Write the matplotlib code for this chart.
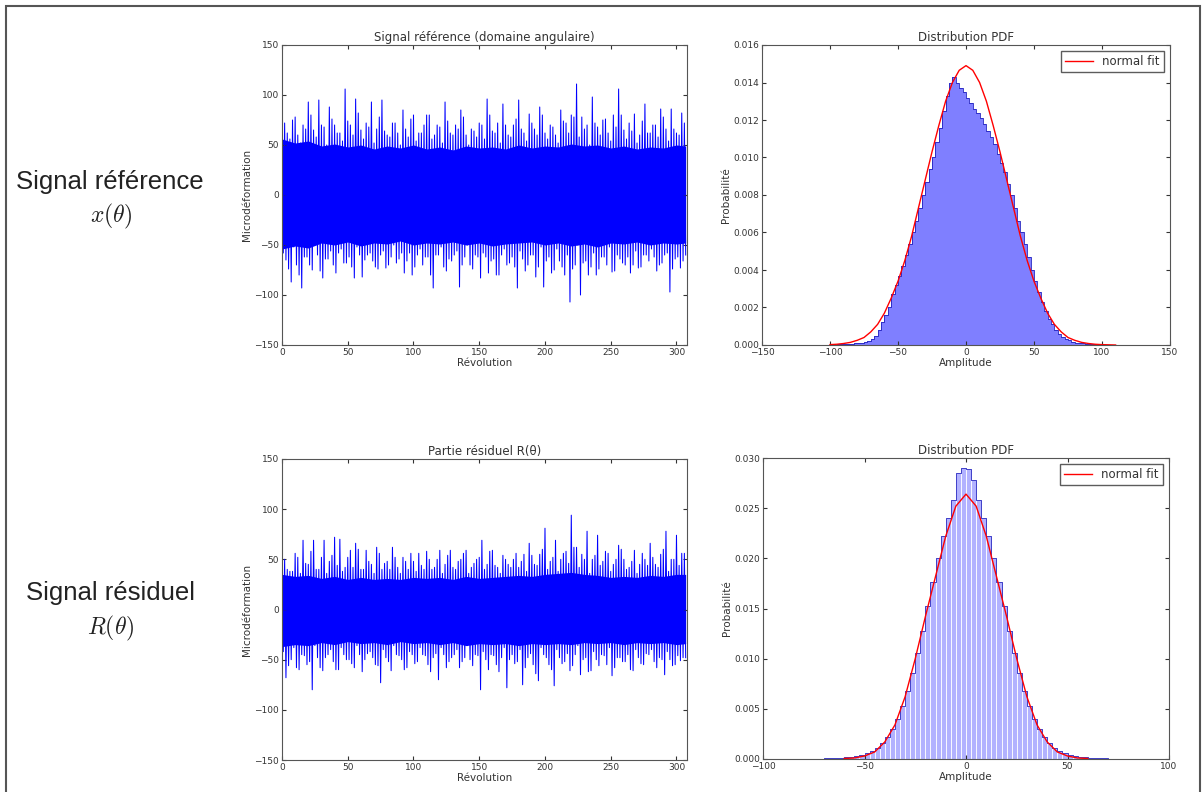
import numpy as np
import matplotlib
matplotlib.use("Agg")
import matplotlib.pyplot as plt
from matplotlib.patches import Rectangle

# ---- time signals, one group every 4 rev ----
# main peaks / troughs (the tall spikes)
ref_upper = [78, 62, 75, 60, 70, 93, 65, 95, 68, 88, 70, 62, 106, 70, 96, 65,
             72, 93, 66, 95, 60, 72, 62, 85, 58, 80, 62, 70, 80, 60, 68, 93,
             62, 70, 85, 60, 66, 58, 70, 96, 64, 72, 91, 60, 70, 95, 62, 81,
             66, 88, 62, 70, 60, 85, 72, 80, 111, 78, 70, 98, 68, 75, 62, 80,
             106, 65, 72, 81, 60, 91, 62, 70, 86, 66, 86, 62, 82]
ref_lower = [-65, -87, -70, -93, -62, -75, -60, -83, -64, -70, -58, -68, -62,
             -83, -60, -65, -58, -72, -60, -73, -62, -68, -58, -66, -80, -60,
             -70, -62, -93, -60, -72, -64, -60, -92, -62, -70, -60, -83, -62,
             -66, -80, -60, -70, -62, -93, -64, -70, -60, -72, -92, -62, -75,
             -66, -80, -107, -70, -100, -66, -72, -80, -62, -70, -77, -60, -68,
             -62, -70, -73, -60, -66, -62, -70, -60, -97, -64, -73, -60]
# smaller peaks / troughs in between
ref_upper2 = [72, 56, 78, 52, 66, 80, 58, 70, 50, 76, 62, 54, 74, 60, 82, 56,
              68, 52, 78, 64, 58, 72, 50, 66, 76, 54, 62, 80, 56, 70, 52, 74,
              60, 66, 78, 50, 64, 72, 56, 80, 62, 52, 70, 58, 76, 66, 54, 72,
              60, 80, 56, 68, 52, 74, 62, 78, 58, 66, 50, 72, 60, 76, 54, 68,
              80, 56, 64, 52, 74, 62, 70, 58, 78, 54, 66, 60, 72]
ref_lower2 = [-58, -74, -52, -80, -62, -70, -50, -76, -64, -56, -78, -54, -68,
              -72, -52, -82, -60, -66, -74, -56, -70, -50, -64, -78, -58, -72,
              -54, -62, -80, -60, -52, -76, -66, -56, -70, -50, -74, -62, -58,
              -78, -64, -80, -54, -68, -72, -56, -76, -60, -82, -52, -66, -78,
              -54, -72, -60, -74, -50, -68, -80, -58, -74, -62, -52, -76, -64,
              -70, -78, -56, -72, -60, -54, -76, -68, -58, -74, -62, -66]
# dense core of the band, every 10 rev (last point at the right edge)
ref_core_hi = [56, 52, 54, 49, 51, 48, 50, 46, 49, 47, 50, 46, 48, 45, 49, 47,
               48, 46, 50, 47, 49, 48, 51, 49, 50, 47, 49, 46, 48, 47, 50, 49]
ref_core_lo = [-54, -51, -53, -48, -50, -47, -51, -48, -49, -46, -50, -48, -49,
               -47, -50, -48, -51, -49, -48, -47, -50, -48, -51, -49, -52, -48,
               -49, -47, -50, -48, -49, -48]

res_upper = [46, 40, 38, 52, 69, 45, 69, 40, 69, 48, 72, 70, 42, 59, 66, 40,
             59, 45, 62, 40, 48, 62, 42, 52, 40, 48, 56, 40, 50, 42, 59, 45,
             59, 40, 50, 59, 42, 50, 69, 45, 59, 42, 54, 45, 50, 42, 55, 66,
             45, 55, 81, 48, 69, 50, 58, 94, 62, 55, 78, 50, 74, 48, 56, 45,
             64, 50, 42, 59, 45, 50, 66, 45, 55, 78, 50, 74, 56]
res_lower = [-68, -50, -58, -45, -55, -80, -48, -61, -45, -52, -60, -45, -50,
             -58, -45, -50, -42, -55, -73, -48, -61, -45, -50, -58, -45, -52,
             -45, -55, -48, -70, -45, -52, -45, -58, -48, -50, -45, -80, -50,
             -45, -55, -48, -78, -45, -52, -75, -48, -55, -71, -45, -55, -76,
             -48, -52, -61, -45, -65, -48, -61, -50, -45, -55, -66, -48, -52,
             -45, -61, -48, -55, -45, -52, -48, -65, -50, -55, -51, -48]
res_upper2 = [50, 38, 56, 36, 46, 58, 40, 52, 36, 54, 44, 38, 52, 42, 60, 40,
              48, 36, 56, 46, 40, 52, 36, 48, 56, 38, 44, 58, 40, 50, 36, 54,
              42, 48, 56, 36, 46, 52, 40, 58, 44, 36, 50, 42, 56, 48, 38, 54,
              44, 60, 40, 52, 38, 56, 46, 62, 42, 50, 36, 54, 44, 58, 38, 50,
              60, 40, 48, 36, 56, 44, 52, 42, 60, 38, 50, 44, 56]
res_lower2 = [-42, -56, -38, -60, -46, -52, -36, -58, -48, -40, -60, -38, -50,
              -54, -36, -62, -44, -48, -56, -40, -52, -36, -46, -60, -42, -54,
              -38, -46, -62, -44, -38, -58, -48, -40, -52, -36, -56, -46, -42,
              -60, -46, -62, -38, -50, -54, -40, -58, -44, -64, -38, -48, -60,
              -40, -54, -44, -56, -36, -50, -62, -42, -56, -46, -38, -58, -48,
              -52, -60, -40, -54, -44, -40, -58, -50, -42, -56, -46, -48]
res_core_hi = [35, 33, 34, 31, 33, 30, 32, 30, 31, 30, 32, 31, 32, 30, 33, 31,
               32, 33, 34, 33, 35, 36, 37, 35, 34, 32, 33, 32, 34, 33, 35, 35]
res_core_lo = [-37, -35, -36, -33, -35, -32, -34, -33, -35, -32, -34, -33, -35,
               -33, -36, -34, -35, -34, -36, -34, -35, -34, -35, -33, -34, -33,
               -35, -33, -34, -33, -35, -34]
core_rev = list(range(0, 301, 10)) + [307]

# ---- histograms (density per 2.5-wide bin) ----
ref_hist = [0.00002, 0.00002, 0.00003, 0.00004, 0.00005, 0.00006, 0.00007,
            0.00008, 0.0001, 0.00012, 0.00015, 0.0002, 0.0003, 0.0005,
            0.0008, 0.0012, 0.0016, 0.0020, 0.0027, 0.0032, 0.0037, 0.0042,
            0.0048, 0.0054, 0.0060, 0.0066, 0.0073, 0.0080, 0.0087, 0.0094,
            0.0100, 0.0108, 0.0116, 0.0125, 0.0133, 0.0140, 0.0143, 0.0140,
            0.0137, 0.0135,
            0.0132, 0.0129, 0.0126, 0.0124, 0.0121, 0.0118, 0.0114, 0.0111,
            0.0107, 0.0102, 0.0097, 0.0092, 0.0086, 0.0080, 0.0073, 0.0066,
            0.0060, 0.0054, 0.0047, 0.0040, 0.0034, 0.0028, 0.0023, 0.0018,
            0.0014, 0.0011, 0.0008, 0.0006, 0.00045, 0.00033, 0.00025, 0.00018,
            0.00013, 0.0001, 0.00008, 0.00006, 0.00005, 0.00004, 0.00003,
            0.00003, 0.00002, 0.00002, 0.00002, 0.00001, 0.00001]
res_hist = [0.00001, 0.00001, 0.00002, 0.00002, 0.00003, 0.00004, 0.00005,
            0.00007, 0.0001, 0.00013, 0.00015, 0.0002, 0.0003, 0.0004, 0.0006,
            0.0008, 0.0011, 0.0016, 0.0022, 0.0030, 0.0040, 0.0053, 0.0068,
            0.0086, 0.0106, 0.0128, 0.0152, 0.0176, 0.0200, 0.0222, 0.0240,
            0.0258, 0.0285, 0.0290,
            0.0289, 0.0278, 0.0258, 0.0240, 0.0222, 0.0200, 0.0176, 0.0152,
            0.0128, 0.0106, 0.0086, 0.0068, 0.0053, 0.0040, 0.0030, 0.0022,
            0.0016, 0.0011, 0.0008, 0.0006, 0.0004, 0.0003, 0.0002, 0.00015,
            0.0001, 0.00008, 0.00006, 0.00005, 0.00004, 0.00003, 0.00002,
            0.00002, 0.00001, 0.00001]

# ---- normal fit curves, read every 5 units ----
ref_fit_x = list(range(-100, 111, 5))
ref_fit_y = [0.00002, 0.00004, 0.00008, 0.00014, 0.00025, 0.0004, 0.0007,
             0.0011, 0.0017, 0.0025, 0.0034, 0.0045, 0.0058, 0.0073, 0.0088,
             0.0103, 0.0117, 0.0130, 0.0140, 0.01465, 0.0149, 0.01465, 0.0140,
             0.0130, 0.0117, 0.0103, 0.0088, 0.0073, 0.0058, 0.0045, 0.0034,
             0.0025, 0.0017, 0.0011, 0.0007, 0.0004, 0.00025, 0.00014,
             0.00008, 0.00004, 0.00002, 0.00001, 0.0]
res_fit_x = list(range(-60, 61, 5))
res_fit_y = [0.00005, 0.0001, 0.0003, 0.0007, 0.0017, 0.0034, 0.0062,
             0.0100, 0.0142, 0.0182, 0.0222, 0.0252, 0.0264, 0.0252, 0.0222,
             0.0182, 0.0142, 0.0100, 0.0062, 0.0034, 0.0017, 0.0007, 0.0003,
             0.0001, 0.00005]

W, H = 1202, 792
plt.rcParams["mathtext.fontset"] = "cm"
fig = plt.figure(figsize=(W / 100, H / 100), dpi=100)
fig.patches.append(Rectangle((6 / W, -0.05), 1194 / W, 1 - 6 / H + 0.05,
                             transform=fig.transFigure, fill=False,
                             edgecolor="#555555", linewidth=1.5))


def box(l, t, r, b):
    return [l / W, 1 - b / H, (r - l) / W, (b - t) / H]


def style(ax):
    ax.tick_params(direction="in", top=True, right=True, labelsize=6.5,
                   length=3, pad=2, colors="#333333")
    for s in ax.spines.values():
        s.set_color("#555555")
        s.set_linewidth(0.8)


def signal(ax, upper, lower, upper2, lower2, core_hi, core_lo, title):
    rev = np.arange(len(upper)) * 4
    # up, down, up, down inside each 4-rev group
    x = np.column_stack([rev, rev + 1, rev + 2, rev + 3]).ravel()
    y = np.column_stack([upper, lower2, upper2, lower]).ravel()
    ax.fill_between(core_rev, core_lo, core_hi, color="b", linewidth=0)
    ax.plot(x, y, color="b", linewidth=0.75)
    ax.set_xlim(0, 308)
    ax.set_ylim(-150, 150)
    ax.set_xticks(range(0, 301, 50))
    ax.set_yticks(range(-150, 151, 50))
    ax.set_title(title, fontsize=8.5, pad=3, color="#333333")
    ax.set_xlabel("Révolution", fontsize=7.5, labelpad=1, color="#333333")
    ax.set_ylabel("Microdéformation", fontsize=7.5, labelpad=2, color="#333333")
    style(ax)


def pdf(ax, start, heights, fit_x, fit_y, xlim, ylim, yticks, light):
    edges = start + 2.5 * np.arange(len(heights) + 1)
    centers = edges[:-1] + 1.25
    if light:
        ax.bar(centers, heights, width=2.5, color=(0, 0, 1, 0.3),
               edgecolor="white", linewidth=0.6)
    else:
        ax.bar(centers, heights, width=2.5, color=(0, 0, 1, 0.5),
               edgecolor="none", linewidth=0)
    ax.step(centers, heights, where="mid", color="#2020c0", linewidth=0.6)
    ax.plot(fit_x, fit_y, color="red", linewidth=1.0, label="normal fit")
    ax.set_xlim(*xlim)
    ax.set_ylim(*ylim)
    ax.set_yticks(yticks)
    ax.yaxis.set_major_formatter(plt.FormatStrFormatter("%.3f"))
    ax.set_title("Distribution PDF", fontsize=8.5, pad=3, color="#333333")
    ax.set_xlabel("Amplitude", fontsize=7.5, labelpad=1, color="#333333")
    ax.set_ylabel("Probabilité", fontsize=7.5, labelpad=2, color="#333333")
    leg = ax.legend(loc="upper right", fontsize=8.5, handlelength=2.4,
                    fancybox=False, borderaxespad=0.5, borderpad=0.35)
    leg.get_frame().set_edgecolor("#333333")
    for t in leg.get_texts():
        t.set_color("#333333")
    style(ax)


ax1 = fig.add_axes(box(282, 45, 687, 345))
signal(ax1, ref_upper, ref_lower, ref_upper2, ref_lower2,
       ref_core_hi, ref_core_lo, "Signal référence (domaine angulaire)")

ax2 = fig.add_axes(box(762, 45, 1170, 345))
pdf(ax2, -100, ref_hist, ref_fit_x, ref_fit_y, (-150, 150), (0, 0.016),
    np.arange(0, 0.0161, 0.002), False)
ax2.set_xticks(range(-150, 151, 50))

ax3 = fig.add_axes(box(282, 459, 687, 760))
signal(ax3, res_upper, res_lower, res_upper2, res_lower2,
       res_core_hi, res_core_lo, "Partie résiduel R(θ)")

ax4 = fig.add_axes(box(763, 458, 1169, 759))
pdf(ax4, -85, res_hist, res_fit_x, res_fit_y, (-100, 100), (0, 0.030),
    np.arange(0, 0.0301, 0.005), True)
ax4.set_xticks(range(-100, 101, 50))

fig.text(110 / W, 1 - 182 / H, "Signal référence", fontsize=18.5,
         family="Liberation Sans", ha="center", va="center", color="#222222")
fig.text(111 / W, 1 - 216 / H, r"$x(\theta)$", fontsize=17,
         ha="center", va="center", color="#222222")
fig.text(110 / W, 1 - 593 / H, "Signal résiduel", fontsize=18.5,
         family="Liberation Sans", ha="center", va="center", color="#222222")
fig.text(111 / W, 1 - 628 / H, r"$R(\theta)$", fontsize=17,
         ha="center", va="center", color="#222222")

fig.savefig("out.png", dpi=100)
